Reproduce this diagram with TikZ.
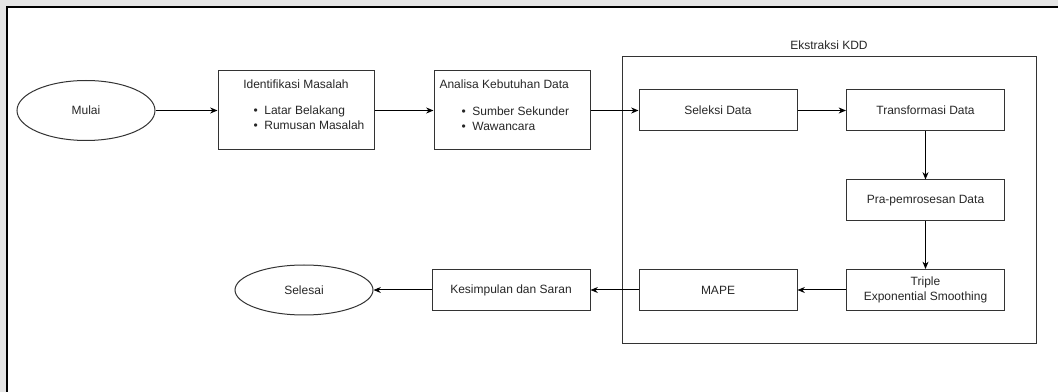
\documentclass[tikz,border=0pt]{standalone}
\usepackage{fontspec}
\setmainfont{Liberation Sans}
\usetikzlibrary{arrows.meta,shapes.geometric}

\newcommand{\butir}[1]{\textbullet\hspace{5pt}#1}

\begin{document}
\begin{tikzpicture}[x=0.75pt, y=-0.75pt, line width=0.75pt,
    font=\fontsize{9}{11.25}\selectfont, text=black!85,
    proses/.style={draw=black!80, minimum width=118.5pt, minimum height=30.75pt, inner sep=0pt},
    proseslist/.style={draw=black!80, minimum width=117pt, minimum height=59.25pt, inner sep=0pt},
    terminal/.style={draw=black!80, ellipse, minimum width=103.5pt, inner sep=0pt},
    teks/.style={inner sep=0pt},
    panah/.style={-{Stealth[length=5.5pt, width=4.5pt]}, draw=black}]
  \useasboundingbox (0,0) rectangle (1058,392);
  % pinggiran tangkapan layar
  \fill[black!10] (0,0) rectangle (1058,7);
  \fill[black!10] (0,0) rectangle (7,392);
  \draw[line width=1.5pt] (7,392) -- (7,7) -- (1058,7);

  % kotak KDD
  \node[draw=black!80, minimum width=310.5pt, minimum height=215.25pt, inner sep=0pt] (kdd) at (829,200.5) {};
  \node[teks] (kddlbl) at (829,45) {Ekstraksi KDD};

  % alur atas
  \node[terminal, minimum height=45pt] (mulai) at (86,110.5) {Mulai};
  \node[proseslist] (idm) at (296,110.5) {};
  \node[teks] (idmjudul) at (296,84) {Identifikasi Masalah};
  \node[teks, anchor=west, align=left] (idmisi) at (253,118) {\butir{Latar Belakang}\\ \butir{Rumusan Masalah}};
  \node[proseslist] (akd) at (512,110.5) {};
  \node[teks, anchor=west] (akdjudul) at (439,84) {Analisa Kebutuhan Data};
  \node[teks, anchor=west, align=left] (akdisi) at (461,118.5) {\butir{Sumber Sekunder}\\ \butir{Wawancara}};
  \node[proses] (sel) at (718,110.5) {Seleksi Data};
  \node[proses] (trf) at (925.5,110.5) {Transformasi Data};
  \node[proses] (pra) at (925.5,200.5) {Pra-pemrosesan Data};

  % alur bawah
  \node[proses, align=center] (tes) at (925.5,290) {Triple\\Exponential Smoothing};
  \node[proses] (mape) at (718,290) {MAPE};
  \node[proses] (kds) at (511,290) {Kesimpulan dan Saran};
  \node[terminal, minimum height=37.5pt] (sls) at (304,290) {Selesai};

  \foreach \a/\b in {mulai/idm, idm/akd, akd/sel, sel/trf, trf/pra, pra/tes, tes/mape, mape/kds, kds/sls}
    { \draw[panah] (\a) -- (\b); }
\end{tikzpicture}
\end{document}
